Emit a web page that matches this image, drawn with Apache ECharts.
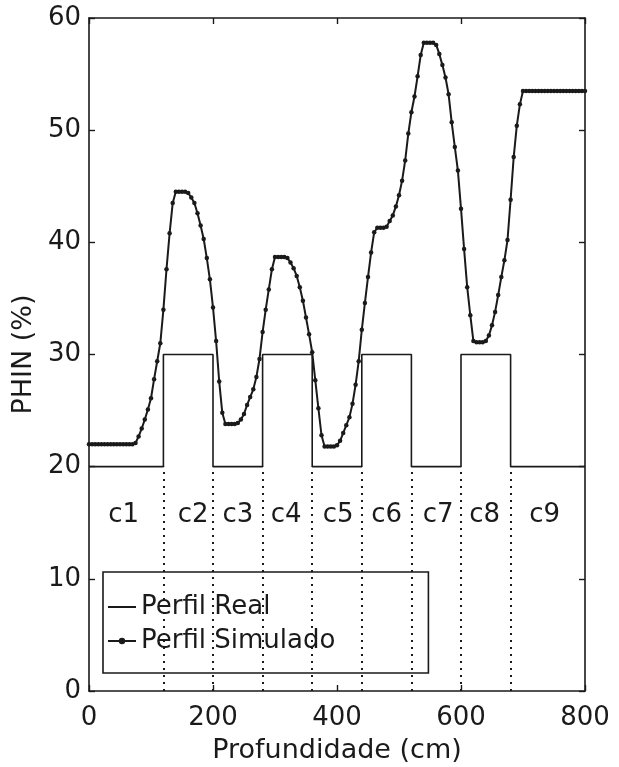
<!DOCTYPE html>
<html>
<head>
<meta charset="utf-8">
<title>PHIN vs Profundidade</title>
<script src="https://cdn.jsdelivr.net/npm/echarts@6/dist/echarts.min.js"></script>
<style>
    html, body { margin: 0; padding: 0; background: #fff; }
    #chart { width: 619px; height: 767px; }
</style>
</head>
<body>
<div id="chart"></div>
<script>
// camadas do perfil real (limites em cm e PHIN em %)
var layerBounds = [0, 120, 200, 280, 360, 440, 520, 600, 680, 800];
var layerPhin = [20, 30, 20, 30, 20, 30, 20, 30, 20];

// perfil simulado, um ponto a cada 5 cm (0..800)
var simStep = 5;
var simPhin = [
    22.0, 22.0, 22.0, 22.0, 22.0, 22.0, 22.0, 22.0, 22.0, 22.0,
    22.0, 22.0, 22.0, 22.0, 22.0, 22.1, 22.7, 23.4, 24.2, 25.1,
    26.1, 27.8, 29.4, 31.0, 34.0, 37.6, 40.8, 43.5, 44.5, 44.5,
    44.5, 44.5, 44.4, 44.0, 43.5, 42.6, 41.5, 40.3, 38.6, 36.7,
    34.2, 31.2, 27.6, 24.8, 23.8, 23.8, 23.8, 23.8, 23.9, 24.2,
    24.7, 25.5, 26.2, 26.9, 28.0, 29.6, 32.0, 34.0, 35.8, 37.6,
    38.7, 38.7, 38.7, 38.7, 38.6, 38.2, 37.7, 37.0, 36.0, 34.8,
    33.3, 31.8, 30.2, 27.7, 25.2, 22.8, 21.8, 21.8, 21.8, 21.8,
    21.9, 22.3, 23.0, 23.7, 24.4, 25.6, 27.3, 29.4, 32.2, 34.6,
    36.9, 39.1, 40.9, 41.3, 41.3, 41.3, 41.4, 41.9, 42.4, 43.2,
    44.2, 45.5, 47.3, 49.7, 51.6, 53.0, 54.8, 56.7, 57.8, 57.8,
    57.8, 57.8, 57.6, 56.8, 55.8, 54.7, 53.2, 50.7, 48.5, 46.4,
    43.0, 39.4, 36.0, 33.5, 31.2, 31.1, 31.1, 31.1, 31.2, 31.7,
    32.6, 33.8, 35.3, 36.9, 38.4, 40.2, 43.8, 47.6, 50.4, 52.3,
    53.5, 53.5, 53.5, 53.5, 53.5, 53.5, 53.5, 53.5, 53.5, 53.5,
    53.5, 53.5, 53.5, 53.5, 53.5, 53.5, 53.5, 53.5, 53.5, 53.5,
    53.5
];

// rótulos das camadas
var layerNames = ['c1', 'c2', 'c3', 'c4', 'c5', 'c6', 'c7', 'c8', 'c9'];
var layerNameX = [56, 168, 240, 318, 402, 480, 563, 638, 735];
var layerNameY = 15.7;

var xTicks = { min: 0, max: 800, interval: 200 };
var yTicks = { min: 0, max: 60, interval: 10 };

var font = 'DejaVu Sans';
var ink = '#1a1a1a';

var realData = [];
for (var i = 0; i < layerPhin.length; i++) {
    realData.push([layerBounds[i], layerPhin[i]]);
    realData.push([layerBounds[i + 1], layerPhin[i]]);
}
var simData = simPhin.map(function (v, i) { return [i * simStep, v]; });
var innerBounds = layerBounds.slice(1, -1);
var baseLevel = Math.min.apply(null, layerPhin);

var chart = echarts.init(document.getElementById('chart'));

var axisCommon = {
    type: 'value',
    splitLine: { show: false },
    axisLine: { show: true, onZero: false, lineStyle: { color: ink, width: 1.6 } },
    axisTick: { show: true, inside: true, length: 6, lineStyle: { color: ink, width: 1.4 } }
};

var option = {
    animation: false,
    backgroundColor: '#fff',
    grid: { left: 89, right: 34, top: 18, bottom: 76, outerBoundsMode: 'none', containLabel: false },
    xAxis: [
        Object.assign({}, axisCommon, xTicks, {
            position: 'bottom',
            name: 'Profundidade (cm)',
            nameLocation: 'middle',
            nameGap: 46,
            nameTextStyle: { fontFamily: font, fontSize: 27, color: ink },
            axisLabel: {
                showMinLabel: true, showMaxLabel: true,
                margin: 14, fontFamily: font, fontSize: 26, color: ink
            }
        }),
        Object.assign({}, axisCommon, xTicks, {
            position: 'top',
            axisLabel: { show: false }
        })
    ],
    yAxis: [
        Object.assign({}, axisCommon, yTicks, {
            position: 'left',
            name: 'PHIN (%)',
            nameLocation: 'middle',
            nameGap: 44,
            nameTextStyle: { fontFamily: font, fontSize: 27, color: ink },
            axisLabel: {
                showMinLabel: true, showMaxLabel: true,
                margin: 8, fontFamily: font, fontSize: 26, color: ink
            }
        }),
        Object.assign({}, axisCommon, yTicks, {
            position: 'right',
            axisLabel: { show: false }
        })
    ],
    legend: {
        orient: 'vertical',
        left: 103,
        top: 572,
        backgroundColor: '#fff',
        borderColor: ink,
        borderWidth: 1.6,
        borderRadius: 0,
        padding: [22, 93, 19, 4],
        itemWidth: 28,
        itemHeight: 8,
        itemGap: 8,
        selectedMode: false,
        textStyle: { fontFamily: font, fontSize: 26, color: ink, lineHeight: 26 },
        data: [
            { name: 'Perfil Real', itemStyle: { color: 'rgba(0,0,0,0)', borderWidth: 0 } },
            { name: 'Perfil Simulado' }
        ]
    },
    series: [
        {
            name: 'Perfil Real',
            type: 'line',
            data: realData,
            symbol: 'none',
            silent: true,
            lineStyle: { color: ink, width: 1.6 },
            itemStyle: { color: ink },
            markLine: {
                silent: true,
                symbol: ['none', 'none'],
                label: { show: false },
                lineStyle: { color: ink, width: 2, type: [2, 5] },
                data: innerBounds.map(function (b) {
                    return [{ coord: [b, 0] }, { coord: [b, baseLevel] }];
                })
            }
        },
        {
            name: 'Perfil Simulado',
            type: 'line',
            data: simData,
            symbol: 'circle',
            symbolSize: 4.5,
            showAllSymbol: true,
            silent: true,
            lineStyle: { color: ink, width: 2 },
            itemStyle: { color: ink }
        },
        {
            name: 'camadas',
            type: 'scatter',
            symbolSize: 0,
            silent: true,
            itemStyle: { opacity: 1 },
            data: layerNames.map(function (n, i) {
                return { name: n, value: [layerNameX[i], layerNameY] };
            }),
            label: {
                show: true,
                position: 'inside',
                formatter: '{b}',
                fontFamily: font,
                fontSize: 26,
                color: ink,
                opacity: 1
            }
        }
    ]
};

chart.setOption(option);
</script>
</body>
</html>
